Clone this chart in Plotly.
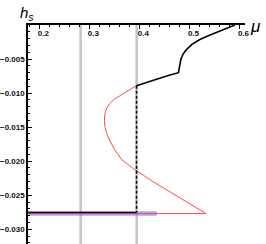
import plotly.graph_objects as go

# ---- data ----
# stable (black) branch
black_mu = [0.5908, 0.5750, 0.5608, 0.5400, 0.5208, 0.5050, 0.4940, 0.4870, 0.4828, 0.4800, 0.4788, 0.4780, 0.4560, 0.4348, 0.4150, 0.3942]
black_h = [0.0, -0.00045, -0.00091, -0.00150, -0.00213, -0.00285, -0.00361, -0.00430, -0.00508, -0.00600, -0.00680, -0.00700, -0.00745, -0.00792, -0.00840, -0.00891]

# dashed vertical jump
dash_mu = [0.3942, 0.3942]
dash_h = [-0.00891, -0.02755]

# unstable (red) branch
red_mu = [0.394, 0.380, 0.365, 0.350, 0.340, 0.334, 0.331, 0.330, 0.331, 0.334, 0.341, 0.352, 0.365, 0.388, 0.427, 0.467, 0.507, 0.533, 0.1774]
red_h = [-0.0089, -0.0095, -0.0102, -0.0109, -0.0116, -0.0123, -0.0131, -0.0140, -0.0149, -0.0158, -0.0170, -0.0185, -0.0198, -0.0211, -0.0230, -0.0248, -0.0265, -0.0277, -0.0277]

# bottom horizontal branches
base_black_mu = [0.1774, 0.3942]
base_black_h = [-0.02755, -0.02755]
band_mu = [0.1774, 0.4348]
band_h = [-0.0277, -0.0277]

# gray reference lines
gray_mu = [0.2825, 0.3945]

x_ticks = [0.2, 0.3, 0.4, 0.5, 0.6]
y_ticks = [-0.005, -0.010, -0.015, -0.020, -0.025, -0.030]

x_range = [0.1774, 0.611]
y_range = [-0.03217, 0.0]

fig = go.Figure()

for g in gray_mu:
    fig.add_trace(go.Scatter(x=[g, g], y=y_range, mode="lines",
                             line=dict(color="#c4c4c4", width=2.5), hoverinfo="skip"))

fig.add_trace(go.Scatter(x=band_mu, y=band_h, mode="lines",
                         line=dict(color="rgba(110,90,245,0.55)", width=4.5)))
fig.add_trace(go.Scatter(x=red_mu, y=red_h, mode="lines",
                         line=dict(color="#ff4a4a", width=1)))
fig.add_trace(go.Scatter(x=base_black_mu, y=base_black_h, mode="lines",
                         line=dict(color="#0a0a30", width=1.6)))
fig.add_trace(go.Scatter(x=dash_mu, y=dash_h, mode="lines",
                         line=dict(color="black", width=1.5, dash="3px,2px")))
fig.add_trace(go.Scatter(x=black_mu, y=black_h, mode="lines",
                         line=dict(color="black", width=1.6)))

tick_font = dict(family="Liberation Sans, Arial, sans-serif", size=8, color="#111", weight="bold")

fig.update_layout(
    width=266, height=244,
    margin=dict(l=28, r=21, t=25, b=0),
    paper_bgcolor="white", plot_bgcolor="white",
    showlegend=False,
    xaxis=dict(range=x_range, side="top", showgrid=False, zeroline=False, automargin=False,
               showline=True, linecolor="black", linewidth=1.5,
               tickmode="array", tickvals=x_ticks, ticktext=[f"{v:.1f}" for v in x_ticks],
               ticks="inside", ticklen=4, tickwidth=1, tickcolor="black",
               ticklabelposition="inside", ticklabelshift=4, ticklabeloverflow="allow",
               tickfont=tick_font,
               minor=dict(tickmode="linear", tick0=0, dtick=0.02, ticks="inside",
                          ticklen=2, tickcolor="black", showgrid=False)),
    yaxis=dict(range=y_range, showgrid=False, zeroline=False, automargin=False,
               showline=True, linecolor="black", linewidth=1.5,
               tickmode="array", tickvals=y_ticks, ticktext=[f"\u2212{abs(v):.3f}" for v in y_ticks],
               ticks="inside", ticklen=4, tickwidth=1, tickcolor="black",
               tickfont=tick_font,
               minor=dict(tickmode="linear", tick0=0, dtick=0.001, ticks="inside",
                          ticklen=2, tickcolor="black", showgrid=False)),
    annotations=[
        dict(text="<i>h</i><sub><i>s</i></sub>", xref="paper", yref="paper",
             x=-0.046, y=1.0, xanchor="left", yanchor="bottom", showarrow=False,
             font=dict(family="Liberation Sans, Arial, sans-serif", size=15, color="black")),
        dict(text="\u03bc", xref="paper", yref="paper",
             x=1.012, y=0.993, xanchor="left", yanchor="middle", showarrow=False,
             font=dict(family="Liberation Sans, Arial, sans-serif", size=17, color="black",
                       style="italic")),
    ],
)

fig.write_html("out.html", config={"displayModeBar": False},
               post_script="document.body.style.margin='0';document.body.style.overflow='hidden';")
